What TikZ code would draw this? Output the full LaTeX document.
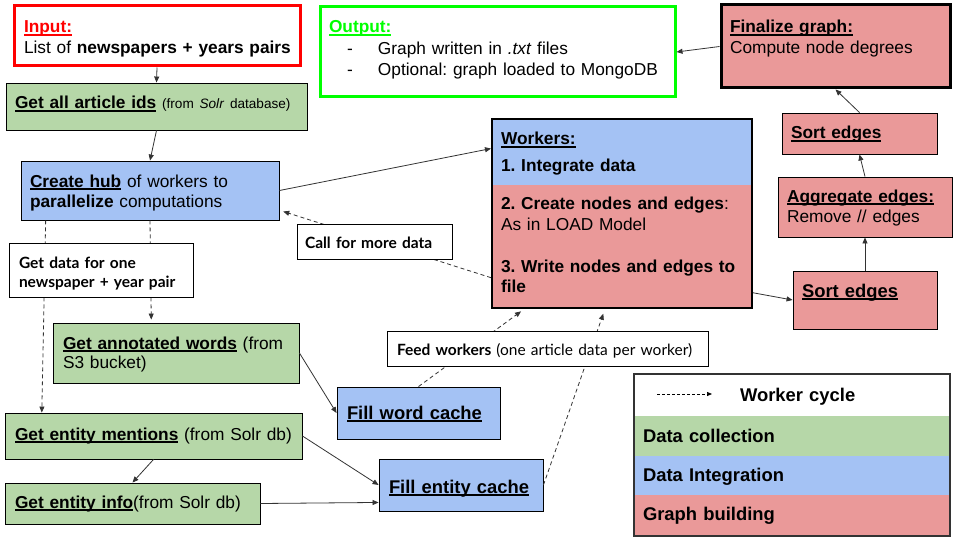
\documentclass[tikz,border=0pt]{standalone}
\usepackage{fontspec}
\setmainfont{Liberation Sans}
\newfontfamily\lato{Lato}
\usetikzlibrary{fit,calc,arrows.meta}

\definecolor{gcol}{HTML}{B6D7A8}
\definecolor{bcol}{HTML}{A4C2F4}
\definecolor{rcol}{HTML}{EA9999}
\definecolor{inred}{HTML}{FF0000}
\definecolor{outgreen}{HTML}{00FF00}
\definecolor{arrowgray}{HTML}{333333}

% underline drawn at a fixed depth under the baseline
\newsavebox\ulsave
\newcommand\ulbox[1]{\sbox\ulsave{#1}\rlap{\rule[-2.6pt]{\wd\ulsave}{1.2pt}}\usebox\ulsave}

\newcommand\mainsz{\fontsize{17.3}{20.8}\selectfont}
\newcommand\bigsz{\fontsize{18.4}{22}\selectfont}
\newcommand\smallsz{\fontsize{13.6}{16}\selectfont}
\newcommand\labsz{\lato\fontsize{15.5}{19.5}\selectfont}

\begin{document}
\frenchspacing
\begin{tikzpicture}[x=1pt,y=-1pt,
  boxline/.style={draw=black, line width=0.9pt, inner sep=0pt},
  gbox/.style={boxline, fill=gcol},
  bbox/.style={boxline, fill=bcol},
  rbox/.style={boxline, fill=rcol},
  lblbox/.style={boxline, fill=white},
  plain/.style={inner sep=0pt},
  txt/.style={anchor=base west, inner sep=0pt, outer sep=0pt, align=left, text width=300pt, font=\mainsz},
  conn/.style={-{Triangle[length=6pt,width=5pt]}, line width=0.8pt, draw=arrowgray},
  dconn/.style={conn, dash pattern=on 4pt off 3pt}
]
\useasboundingbox (0,0) rectangle (960,540);
\fill[white] (0,0) rectangle (960,540);

% ---- top row -------------------------------------------------------
\node[draw=inred, line width=3pt, inner sep=0pt, fit={(14,6) (300,66)}] (input) {};
\node[txt] (input-t) at (24,33) {{\color{inred}\ulbox{\textbf{Input:}}}\\
  List of \textbf{newspapers + years pairs}};

\node[draw=outgreen, line width=3pt, inner sep=0pt, fit={(320,7) (675,97)}] (output) {};
\node[txt, text width=350pt, font=\fontsize{17.3}{21.5}\selectfont] (output-t) at (329,33) {{\color{outgreen}\ulbox{\textbf{Output:}}}\\
  \hspace*{18pt}\makebox[31pt][l]{-}Graph written in \textit{.txt} files\\
  \hspace*{18pt}\makebox[31pt][l]{-}Optional: graph loaded to MongoDB};

\node[rbox, line width=3pt, fit={(721,5) (950,88)}] (fin) {};
\node[txt] (fin-t) at (730,33) {\ulbox{\textbf{Finalize graph:}}\\ Compute node degrees};

% ---- data collection -------------------------------------------------
\node[gbox, fit={(6,83) (307,130)}] (ids) {};
\node[txt] (ids-t) at (15,109) {\ulbox{\textbf{Get all article ids}} {\smallsz(from \textit{Solr} database)}};

\node[bbox, fit={(21,161) (279,220)}] (hub) {};
\node[txt, font=\fontsize{17.3}{20}\selectfont] (hub-t) at (30,187) {\ulbox{\textbf{Create hub}} of workers to\\
  \textbf{parallelize} computations};

\node[gbox, fit={(53,323) (299,383)}] (ann) {};
\node[txt, font=\fontsize{17.3}{19.5}\selectfont] (ann-t) at (63,349) {\ulbox{\textbf{Get annotated words}} (from\\ S3 bucket)};

\node[gbox, fit={(5,413) (302,459)}] (ment) {};
\node[txt] (ment-t) at (15,440) {\ulbox{\textbf{Get entity mentions}} (from Solr db)};

\node[gbox, fit={(5,483) (260,524)}] (info) {};
\node[txt] (info-t) at (15,508) {\ulbox{\textbf{Get entity info}}(from Solr db)};

% ---- caches ----------------------------------------------------------
\node[bbox, fit={(337,387) (500,439)}] (fillW) {};
\node[txt, font=\bigsz] (fillW-t) at (347,419) {\ulbox{\textbf{Fill word cache}}};

\node[bbox, fit={(379,459) (543,511)}] (fillE) {};
\node[txt, font=\bigsz] (fillE-t) at (389,493) {\ulbox{\textbf{Fill entity cache}}};

% ---- workers -----------------------------------------------------------
\node[plain, fill=rcol, fit={(492,119) (752,308)}] (workers-low) {};
\node[plain, fill=bcol, fit={(492,119) (752,185)}] (workers-top) {};
\node[draw=black, line width=2pt, inner sep=0pt, fit={(492,119) (752,308)}] (workers) {};
\node[txt, text width=250pt] (workers-t) at (501,145) {\ulbox{\textbf{Workers:}}\\[6pt]
  \textbf{1. Integrate data}\\[17pt]
  \textbf{2. Create nodes and edges}:\\
  As in LOAD Model\\[21pt]
  \textbf{3. Write nodes and edges to}\\
  \textbf{file}};

% ---- graph building ----------------------------------------------------
\node[rbox, fit={(782,113) (937,154)}] (sortT) {};
\node[txt] (sortT-t) at (791,139) {\ulbox{\textbf{Sort edges}}};

\node[rbox, fit={(778,177) (952,237)}] (agg) {};
\node[txt] (agg-t) at (787,202) {\ulbox{\textbf{Aggregate edges:}}\\ Remove // edges};

\node[rbox, fit={(793,271) (937,329)}] (sortB) {};
\node[txt, font=\bigsz] (sortB-t) at (802,297) {\ulbox{\textbf{Sort edges}}};

% ---- solid connectors ----------------------------------------------------
\draw[conn] (input.south) -- (ids.north);
\draw[conn] (ids.south) -- (hub.north);
\draw[conn] (hub.east) -- ($(workers.north west)!0.16!(workers.south west)$);
\draw[conn] ($(workers.north east)!0.915!(workers.south east)$) -- (sortB.west);
\draw[conn] (sortB.north) -- (agg.south);
\draw[conn] (agg.north) -- (sortT.south);
\draw[conn] (sortT.north) -- (fin.south);
\draw[conn] (fin.west) -- (output.east);
\draw[conn] (ann.east) -- (fillW.west);
\draw[conn] (ment.east) -- (fillE.west);
\draw[conn] (ment.south) -- (info.north);
\draw[conn] (info.east) -- ($(fillE.north west)!0.83!(fillE.south west)$);

% ---- worker cycle (dashed) -------------------------------------------------
\draw[dconn, shorten >=4pt] ($(workers.north west)!0.836!(workers.south west)$) -- ($(hub.north east)!0.83!(hub.south east)$);
\draw[dconn] ($(hub.south west)!0.097!(hub.south east)$) -- ($(ment.north west)!0.125!(ment.north east)$);
\draw[dconn, shorten >=3pt] (hub.south) -- ($(ann.north west)!0.40!(ann.north east)$);
\draw[dconn, shorten >=4pt] (fillW.north) -- ($(workers.south west)!0.127!(workers.south east)$);
\draw[dconn, shorten >=5pt] (fillE.east) -- ($(workers.south west)!0.435!(workers.south east)$);

% ---- labels on the cycle ---------------------------------------------------
\node[lblbox, fit={(297,224) (452,259)}] (call) {};
\node[txt, font=\labsz] (call-t) at (305,248) {\textbf{Call for more data}};

\node[lblbox, fit={(9,243) (193,297)}] (getdata) {};
\node[txt, font=\labsz] (getdata-t) at (19,268) {\textbf{Get data for one}\\ \textbf{newspaper + year pair}};

\node[lblbox, fit={(387,331) (708,366)}] (feed) {};
\node[txt, font=\labsz, text width=320pt] (feed-t) at (397,355) {\textbf{Feed workers} (one article data per worker)};

% ---- legend ----------------------------------------------------------------
\node[plain, fill=white, fit={(634,374) (950,416)}] (leg-cyc) {};
\node[plain, fill=gcol, fit={(634,416) (950,456)}] (leg-dc) {};
\node[plain, fill=bcol, fit={(634,456) (950,495)}] (leg-di) {};
\node[plain, fill=rcol, fit={(634,495) (950,536)}] (leg-gb) {};
\node[draw=black!80, line width=1.5pt, inner sep=0pt, fit={(634,374) (950,536)}] (legend) {};
\coordinate (leg-a) at (657,394);
\coordinate (leg-b) at (712,394);
\draw[-{Triangle[length=5pt,width=4pt]}, line width=0.7pt, dash pattern=on 3pt off 2pt] (leg-a) -- (leg-b);
\node[txt, font=\bigsz] (leg-cyc-t) at (740,401) {\textbf{Worker cycle}};
\node[txt, font=\bigsz] (leg-dc-t) at (643,442) {\textbf{Data collection}};
\node[txt, font=\bigsz] (leg-di-t) at (643,481) {\textbf{Data Integration}};
\node[txt, font=\bigsz] (leg-gb-t) at (643,520) {\textbf{Graph building}};

\end{tikzpicture}
\end{document}
